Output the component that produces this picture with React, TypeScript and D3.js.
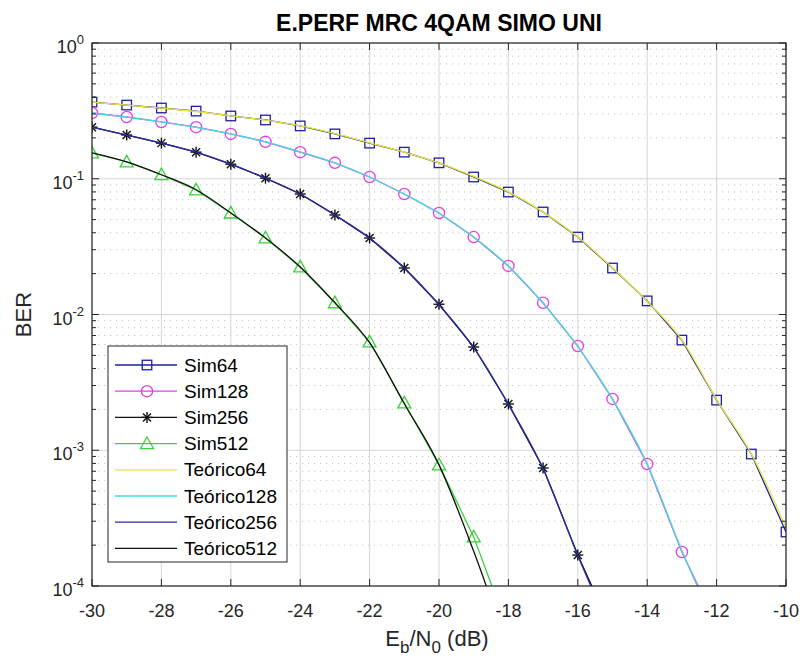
import React from "react";
import * as d3 from "d3";

const EBN0 = [-30, -29, -28, -27, -26, -25, -24, -23, -22, -21, -20, -19, -18, -17, -16, -15, -14, -13, -12, -11, -10];

const sim64 = [0.367, 0.349, 0.332, 0.315, 0.29, 0.271, 0.245, 0.214, 0.183, 0.157, 0.131, 0.103, 0.0798, 0.0569, 0.0372, 0.022, 0.0126, 0.00648, 0.00234, 0.000938, 0.00025];
const sim128 = [0.305, 0.285, 0.262, 0.24, 0.214, 0.187, 0.157, 0.131, 0.103, 0.0772, 0.0559, 0.0372, 0.0228, 0.0122, 0.00586, 0.00239, 0.000792, 0.000178, 0.000052];
const sim256 = [0.24, 0.21, 0.183, 0.157, 0.128, 0.101, 0.0772, 0.0541, 0.0366, 0.022, 0.0119, 0.00576, 0.00219, 0.00074, 0.000169, 0.000046];
const sim512 = [0.155, 0.133, 0.107, 0.0827, 0.0559, 0.0366, 0.0224, 0.0122, 0.00627, 0.00223, 0.00078, 0.00023, 0.000047];

const teo64 = [0.366, 0.349, 0.331, 0.313, 0.291, 0.27, 0.245, 0.215, 0.184, 0.157, 0.131, 0.104, 0.08, 0.057, 0.0372, 0.0221, 0.0125, 0.0065, 0.00236, 0.00094, 0.00027];
const teo128 = [0.305, 0.284, 0.262, 0.239, 0.214, 0.187, 0.158, 0.131, 0.103, 0.077, 0.0557, 0.0372, 0.0227, 0.0121, 0.0058, 0.00238, 0.00079, 0.000182, 0.000048];
const teo256 = [0.24, 0.21, 0.183, 0.157, 0.128, 0.101, 0.0772, 0.0541, 0.0366, 0.022, 0.0118, 0.0057, 0.00218, 0.00073, 0.000168, 0.000043];
const teo512 = [0.155, 0.133, 0.107, 0.083, 0.056, 0.0366, 0.0224, 0.0122, 0.0062, 0.0022, 0.00078, 0.00018, 0.000034];

const xTicks = [-30, -28, -26, -24, -22, -20, -18, -16, -14, -12, -10];
const yDecades = [0, -1, -2, -3, -4];

const BLUE = "#1f1fa3";
const MAGENTA = "#e23ee2";
const BLACK = "#111111";
const GREEN = "#3bd13b";
const YELLOW = "#e8e838";
const CYAN = "#3fdede";
const NAVY = "#2b2ba8";

type Series = { name: string; values: number[]; color: string; marker: string | null; curve: boolean };

const seriesList: Series[] = [
  { name: "Sim64", values: sim64, color: BLUE, marker: "square", curve: false },
  { name: "Sim128", values: sim128, color: MAGENTA, marker: "circle", curve: false },
  { name: "Sim256", values: sim256, color: BLACK, marker: "star", curve: false },
  { name: "Sim512", values: sim512, color: GREEN, marker: "triangle", curve: false },
  { name: "Teórico64", values: teo64, color: YELLOW, marker: null, curve: true },
  { name: "Teórico128", values: teo128, color: CYAN, marker: null, curve: true },
  { name: "Teórico256", values: teo256, color: NAVY, marker: null, curve: true },
  { name: "Teórico512", values: teo512, color: BLACK, marker: null, curve: true },
];

const W = 807;
const H = 663;
const L = 92;
const T = 43;
const R = 786;
const B = 586;
const FONT = "'Liberation Sans', Arial, Helvetica, sans-serif";

function Marker({ type, x, y, color }: { type: string; x: number; y: number; color: string }) {
  const sw = 1.3;
  if (type === "square") {
    const s = 9.5;
    return <rect x={x - s / 2} y={y - s / 2} width={s} height={s} fill="none" stroke={color} strokeWidth={sw} />;
  }
  if (type === "circle") {
    return <circle cx={x} cy={y} r={5.6} fill="none" stroke={color} strokeWidth={sw} />;
  }
  if (type === "star") {
    const a = 5.5;
    const b = 4;
    return (
      <g stroke={color} strokeWidth={1.4}>
        <line x1={x - a} y1={y} x2={x + a} y2={y} />
        <line x1={x} y1={y - a} x2={x} y2={y + a} />
        <line x1={x - b} y1={y - b} x2={x + b} y2={y + b} />
        <line x1={x - b} y1={y + b} x2={x + b} y2={y - b} />
      </g>
    );
  }
  if (type === "triangle") {
    const w = 6.5;
    const h = 11;
    const pts = `${x},${y - h * 0.6} ${x - w},${y + h * 0.45} ${x + w},${y + h * 0.45}`;
    return <polygon points={pts} fill="none" stroke={color} strokeWidth={sw} />;
  }
  return null;
}

export default function App() {
  const x = d3.scaleLinear().domain([-30, -10]).range([L, R]);
  const y = d3.scaleLog().domain([1e-4, 1]).range([B, T]);

  const minorVals: number[] = [];
  for (let e = -4; e < 0; e++) {
    for (let m = 2; m <= 9; m++) minorVals.push(m * Math.pow(10, e));
  }

  const lineLin = d3
    .line<[number, number]>()
    .x((d) => x(d[0]))
    .y((d) => y(d[1]))
    .curve(d3.curveLinear);
  const lineSmooth = d3
    .line<[number, number]>()
    .x((d) => x(d[0]))
    .y((d) => y(d[1]))
    .curve(d3.curveMonotoneX);

  const legendX = 108;
  const legendY = 346;
  const legendW = 179;
  const legendH = 216;
  const rowY0 = 365;
  const rowStep = 26.2;

  return (
    <svg width={W} height={H} style={{ position: "absolute", left: 0, top: 0, background: "#fff" }} fontFamily={FONT}>
      <defs>
        <clipPath id="plotclip">
          <rect x={L} y={T} width={R - L} height={B - T} />
        </clipPath>
      </defs>
      <rect x={0} y={0} width={W} height={H} fill="#fff" />
      <rect x={L} y={T} width={R - L} height={B - T} fill="#fff" />

      {/* minor grid */}
      {minorVals.map((v, i) => (
        <line key={"mg" + i} x1={L} x2={R} y1={y(v)} y2={y(v)} stroke="#c4c4c4" strokeWidth={1} strokeDasharray="1.2 4.8" />
      ))}
      {/* major grid */}
      {yDecades.map((e) => (
        <line key={"gy" + e} x1={L} x2={R} y1={y(Math.pow(10, e))} y2={y(Math.pow(10, e))} stroke="#d6d6d6" strokeWidth={1} />
      ))}
      {xTicks.map((t) => (
        <line key={"gx" + t} x1={x(t)} x2={x(t)} y1={T} y2={B} stroke="#d6d6d6" strokeWidth={1} />
      ))}

      {/* series */}
      <g clipPath="url(#plotclip)">
        {seriesList.map((s) => {
          const pts: [number, number][] = s.values.map((v, i) => [EBN0[i], v]);
          return (
            <g key={s.name}>
              <path d={(s.curve ? lineSmooth : lineLin)(pts) || ""} fill="none" stroke={s.color} strokeWidth={1.3} />
              {s.marker &&
                pts
                  .filter((p) => p[1] >= 1e-4)
                  .map((p, i) => <Marker key={i} type={s.marker as string} x={x(p[0])} y={y(p[1])} color={s.color} />)}
            </g>
          );
        })}
      </g>

      {/* axes box */}
      <rect x={L} y={T} width={R - L} height={B - T} fill="none" stroke="#262626" strokeWidth={1.2} />

      {/* x ticks */}
      {xTicks.map((t) => (
        <g key={"xt" + t}>
          <line x1={x(t)} x2={x(t)} y1={B} y2={B - 7} stroke="#262626" strokeWidth={1} />
          <line x1={x(t)} x2={x(t)} y1={T} y2={T + 7} stroke="#262626" strokeWidth={1} />
          <text x={x(t)} y={617} textAnchor="middle" fontSize={18} fill="#262626">
            {t}
          </text>
        </g>
      ))}

      {/* y ticks */}
      {yDecades.map((e) => {
        const yy = y(Math.pow(10, e));
        return (
          <g key={"yt" + e}>
            <line x1={L} x2={L + 7} y1={yy} y2={yy} stroke="#262626" strokeWidth={1} />
            <line x1={R} x2={R - 7} y1={yy} y2={yy} stroke="#262626" strokeWidth={1} />
            <text x={84} y={yy + 10} textAnchor="end" fontSize={18} fill="#262626">
              <tspan>10</tspan>
              <tspan dy={-9} fontSize={13}>
                {String(e)}
              </tspan>
            </text>
          </g>
        );
      })}
      {minorVals.map((v, i) => (
        <g key={"ym" + i}>
          <line x1={L} x2={L + 4} y1={y(v)} y2={y(v)} stroke="#262626" strokeWidth={1} />
          <line x1={R} x2={R - 4} y1={y(v)} y2={y(v)} stroke="#262626" strokeWidth={1} />
        </g>
      ))}

      {/* title */}
      <text x={(L + R) / 2} y={31} textAnchor="middle" fontSize={23} fontWeight="bold" fill="#000">
        E.PERF MRC 4QAM SIMO UNI
      </text>

      {/* x label */}
      <text x={(L + R) / 2 - 2} y={646} textAnchor="middle" fontSize={22} fill="#262626">
        <tspan>E</tspan>
        <tspan dy={7} fontSize={17}>b</tspan>
        <tspan dy={-7}>/N</tspan>
        <tspan dy={7} fontSize={17}>0</tspan>
        <tspan dy={-7}> (dB)</tspan>
      </text>

      {/* y label */}
      <text transform={`translate(31,${(T + B) / 2}) rotate(-90)`} textAnchor="middle" fontSize={22} fill="#262626">
        BER
      </text>

      {/* legend */}
      <rect x={legendX} y={legendY} width={legendW} height={legendH} fill="#fff" stroke="#262626" strokeWidth={1} />
      {seriesList.map((s, i) => {
        const ry = rowY0 + i * rowStep;
        return (
          <g key={"lg" + s.name}>
            <line x1={115} x2={177} y1={ry} y2={ry} stroke={s.color} strokeWidth={1.3} />
            {s.marker && <Marker type={s.marker} x={147} y={ry} color={s.color} />}
            <text x={184} y={ry + 6.5} fontSize={19} fill="#000">
              {s.name}
            </text>
          </g>
        );
      })}
    </svg>
  );
}
